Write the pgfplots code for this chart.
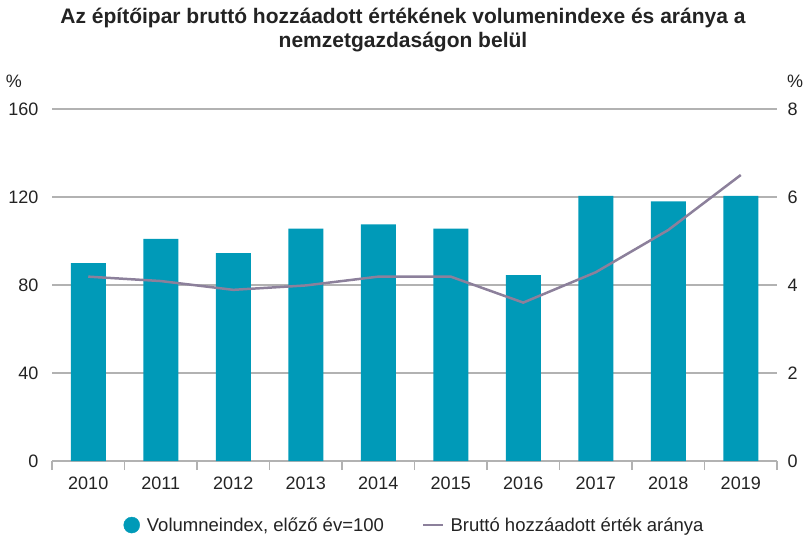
\documentclass[border=0pt]{standalone}
\usepackage{fontspec}
\setmainfont{Liberation Sans}
\usepackage{pgfplots}
\pgfplotsset{compat=1.18}
\definecolor{barc}{RGB}{0,154,184}
\definecolor{linec}{RGB}{140,128,155}
\definecolor{gridc}{RGB}{178,178,178}
\definecolor{txt}{RGB}{35,35,35}
\begin{document}
\begin{tikzpicture}
\useasboundingbox (0pt,0pt) rectangle (806pt,539pt);
\node[font=\fontsize{21}{24}\selectfont\bfseries, text=txt, align=center] at (403pt,509pt) {Az építőipar bruttó hozzáadott értékének volumenindexe és aránya a\\nemzetgazdaságon belül};
\node[font=\fontsize{18}{21}\selectfont, text=txt] at (14pt,458pt) {\%};
\node[font=\fontsize{18}{21}\selectfont, text=txt] at (795pt,458pt) {\%};
\begin{axis}[
  at={(52pt,78pt)}, anchor=south west,
  scale only axis, width=725pt, height=352pt,
  xmin=-0.5, xmax=9.5, ymin=0, ymax=160,
  ytick={0,40,...,160},
  xtick={0,...,9},
  xticklabels={2010,2011,2012,2013,2014,2015,2016,2017,2018,2019},
  minor xtick={-0.5,0.5,...,9.5},
  major x tick style={draw=none},
  minor x tick style={draw=gridc, line width=1.2pt},
  minor tick length=9pt,
  tick align=outside,
  major tick length=0pt,
  ymajorgrids, grid style={gridc, line width=1.3pt},
  axis x line*=bottom, axis y line*=left,
  y axis line style={draw=none},
  x axis line style={gridc, line width=1.3pt, -},
  ticklabel style={font=\fontsize{18}{21}\selectfont, text=txt},
  /pgf/number format/assume math mode=true,
  yticklabel style={anchor=east, xshift=-10pt},
  xticklabel style={anchor=north, yshift=-12pt},
  clip=false,
]
\addplot[ybar, bar width=35pt, fill=barc, draw=none, bar shift=0pt] coordinates {
(0,90) (1,101) (2,94.5) (3,105.6) (4,107.6) (5,105.6) (6,84.5) (7,120.5) (8,118) (9,120.5)};
\end{axis}
\begin{axis}[
  at={(52pt,78pt)}, anchor=south west,
  scale only axis, width=725pt, height=352pt,
  xmin=-0.5, xmax=9.5, ymin=0, ymax=8,
  ytick={0,2,...,8},
  axis y line*=right, axis x line=none,
  yticklabel pos=right,
  y axis line style={draw=none},
  major tick length=0pt,
  ticklabel style={font=\fontsize{18}{21}\selectfont, text=txt},
  /pgf/number format/assume math mode=true,
  yticklabel style={anchor=west, xshift=7pt},
  legend style={at={(0.5,-0.182)}, anchor=center, draw=none, font=\fontsize{18.5}{21}\selectfont, text=txt, legend columns=2, /tikz/every even column/.append style={column sep=36pt}},
  legend cell align=left,
  clip=false,
]
\addlegendimage{legend image code/.code={\fill[barc] (0pt,0pt) circle (8pt); \path (-8pt,0pt) (13pt,0pt);}}
\addlegendentry{Volumneindex, előző év=100}
\addplot[linec, line width=2.5pt, mark=none, legend image code/.code={\draw[linec, line width=2.5pt] (0pt,0pt) -- (20pt,0pt); \path (0pt,0pt) (24pt,0pt);}] coordinates {
(0,4.19) (1,4.09) (2,3.89) (3,3.99) (4,4.19) (5,4.19) (6,3.6) (7,4.29) (8,5.25) (9,6.5)};
\addlegendentry{Bruttó hozzáadott érték aránya}
\end{axis}
\end{tikzpicture}
\end{document}
